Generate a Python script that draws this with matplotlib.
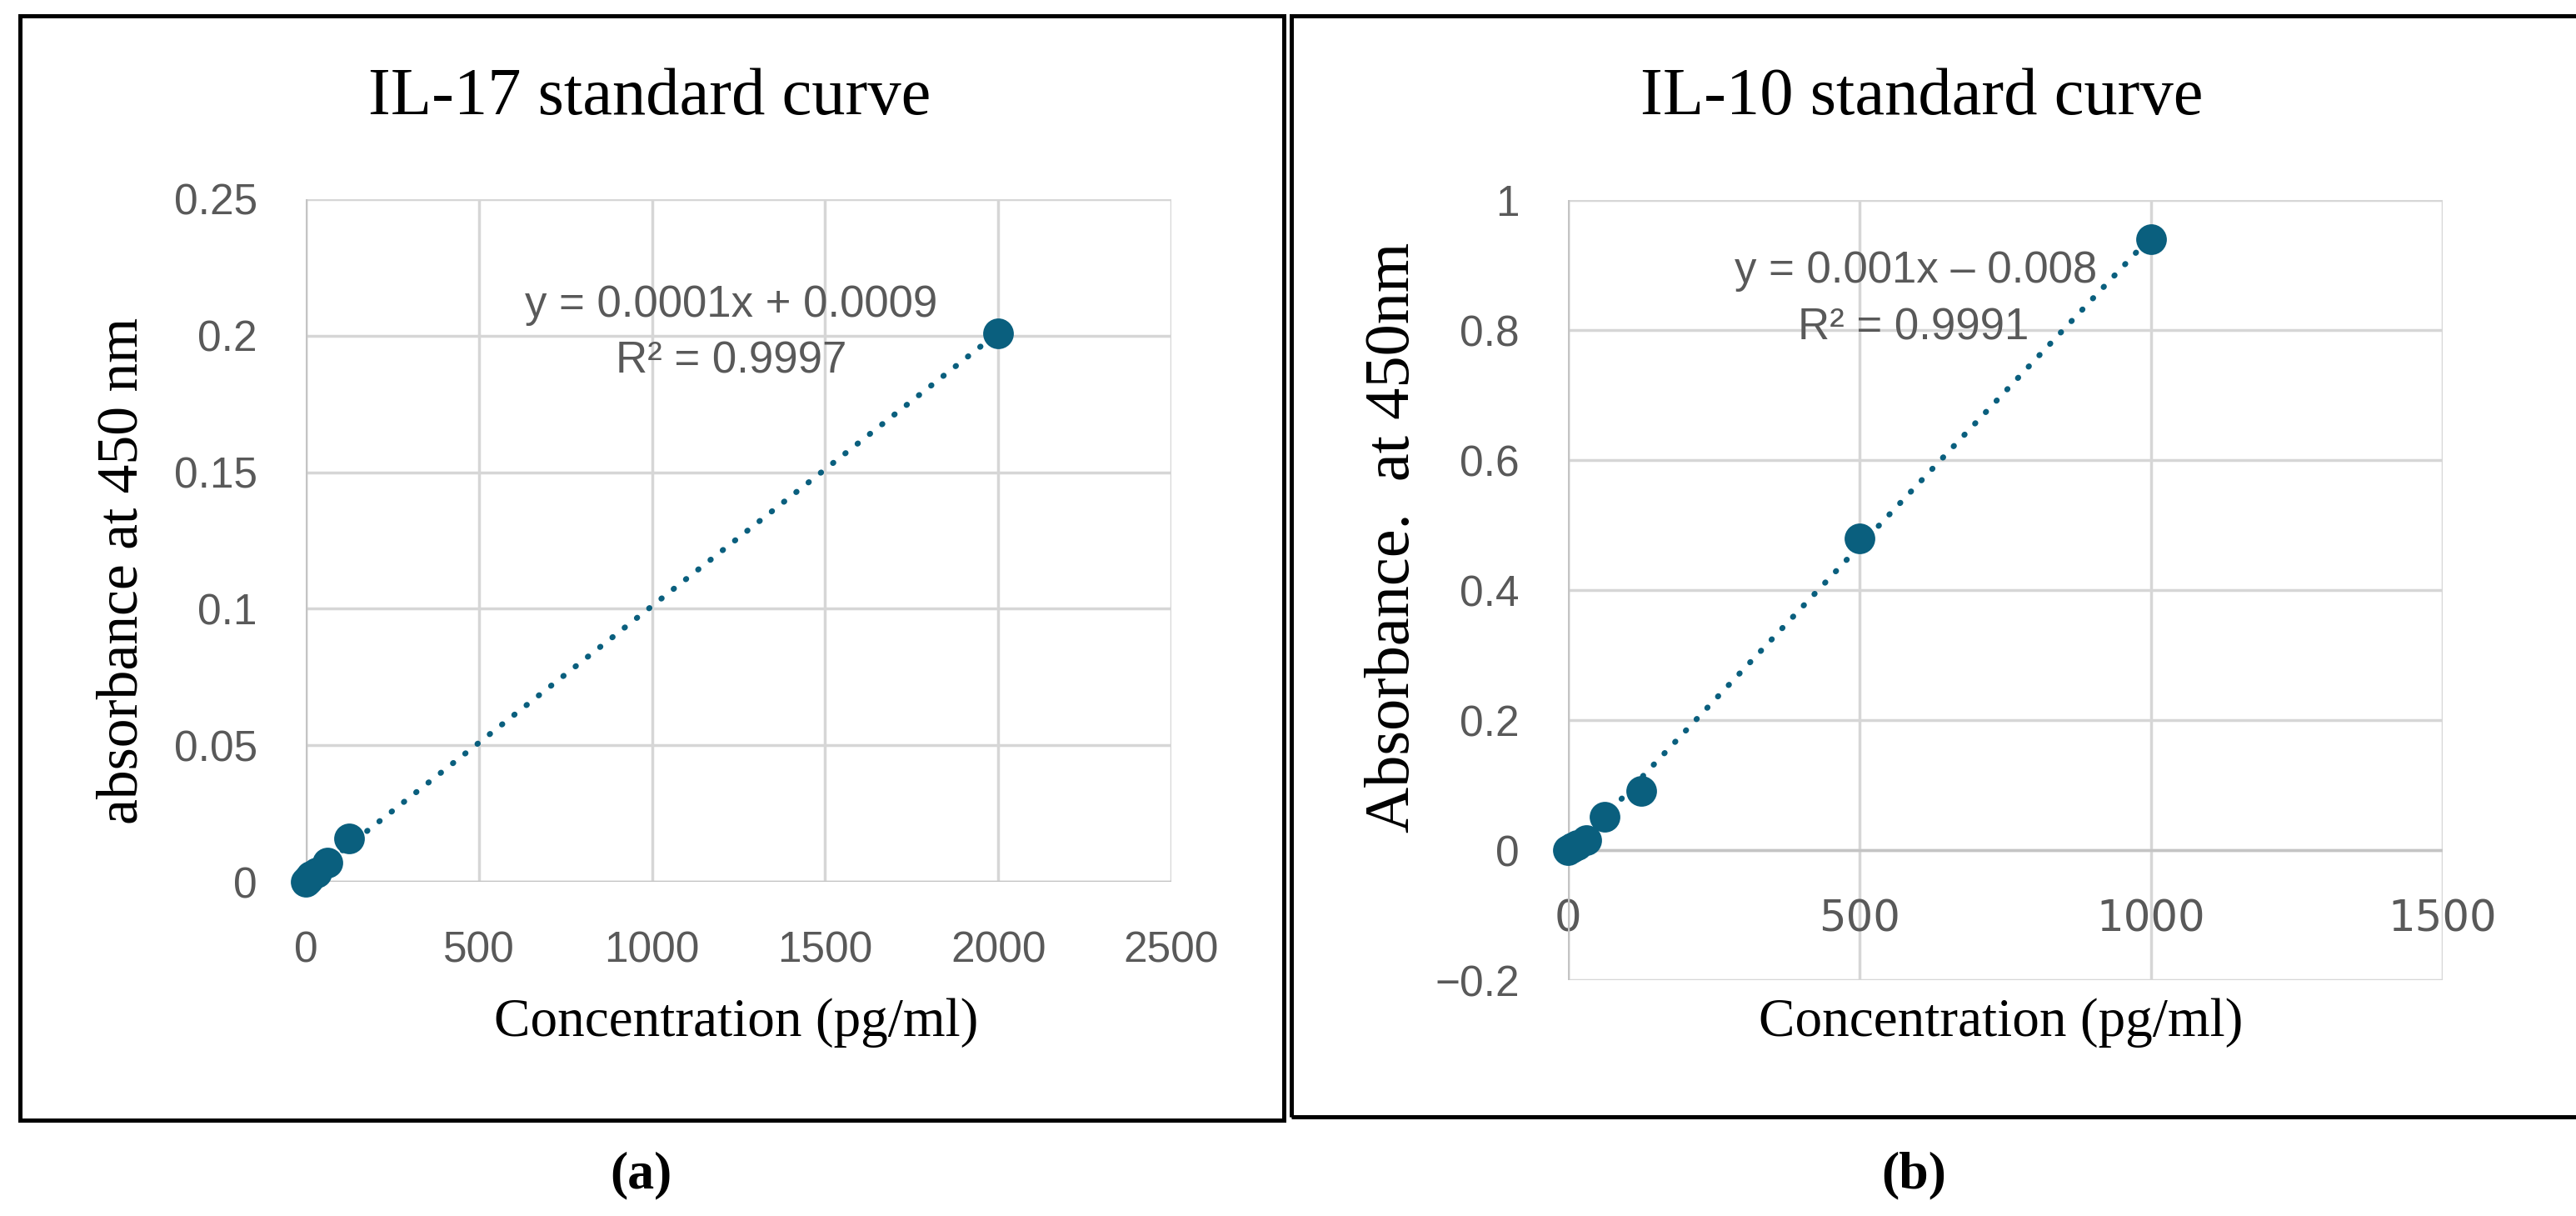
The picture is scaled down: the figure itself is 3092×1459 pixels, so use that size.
import numpy as np
import matplotlib
matplotlib.use("Agg")
import matplotlib.pyplot as plt
from matplotlib.patches import Rectangle

# ---- data ----
il17_conc = [0, 7.8, 15.6, 31.25, 62.5, 125, 2000]
il17_abs = [0, 0.001, 0.002, 0.0035, 0.007, 0.016, 0.201]
il10_conc = [0, 7.8, 15.6, 31.25, 62.5, 125, 500, 1000]
il10_abs = [0, 0.004, 0.008, 0.016, 0.051, 0.091, 0.48, 0.94]

il17_xticks = [0, 500, 1000, 1500, 2000, 2500]
il17_yticks = [0, 0.05, 0.1, 0.15, 0.2, 0.25]
il17_yticklabels = ["0", "0.05", "0.1", "0.15", "0.2", "0.25"]
il10_xticks = [0, 500, 1000, 1500]
il10_yticks = [-0.2, 0, 0.2, 0.4, 0.6, 0.8, 1.0]
il10_yticklabels = ["\u22120.2", "0", "0.2", "0.4", "0.6", "0.8", "1"]

il17_title = "IL-17 standard curve"
il10_title = "IL-10 standard curve"
il17_eq = ["y = 0.0001x + 0.0009", "R\u00b2 = 0.9997"]
il10_eq = ["y = 0.001x \u2013 0.008", "R\u00b2 = 0.9991"]

W, H = 3092, 1459
fig = plt.figure(figsize=(W / 100, H / 100), dpi=100)
fig.patch.set_facecolor("white")

MARK = "#0a5f7e"
GRID = "#d6d6d6"
AXL = "#c4c4c4"
TXT = "#595959"
SANS = ["Liberation Sans", "DejaVu Sans"]
SERIF = ["Liberation Serif", "DejaVu Serif"]


def fx(px):
    return px / W


def fy(py):
    return 1 - py / H


def style_axes(ax, xticks, yticks, yticklabels, xlim, ylim):
    ax.set_xlim(*xlim)
    ax.set_ylim(*ylim)
    ax.set_xticks(xticks)
    ax.set_xticklabels([str(t) for t in xticks])
    ax.set_yticks(yticks)
    ax.set_yticklabels(yticklabels)
    for s in ["top", "right", "left", "bottom"]:
        ax.spines[s].set_visible(False)
    ax.grid(True, color=GRID, lw=2.5, zorder=0)
    ax.set_axisbelow(True)
    ax.tick_params(length=0, pad=42, labelsize=37, labelcolor=TXT)
    for lab in ax.get_xticklabels() + ax.get_yticklabels():
        lab.set_family(SANS)


def draw_series(ax, x, y):
    x = np.asarray(x, float)
    y = np.asarray(y, float)
    m, b = np.polyfit(x, y, 1)
    xs = np.array([x.min(), x.max()])
    ax.plot(xs, m * xs + b, color=MARK, lw=5, linestyle=(0, (0.1, 2.6)),
            dash_capstyle="round", zorder=3, clip_on=False)
    ax.plot(x, y, "o", color=MARK, markersize=26.5, markeredgewidth=0,
            zorder=4, clip_on=False)


# ---- left panel ----
ax1 = fig.add_axes([fx(367), fy(1058), fx(1406) - fx(367), fy(239) - fy(1058)])
style_axes(ax1, il17_xticks, il17_yticks, il17_yticklabels, (0, 2500), (0, 0.25))
ax1.axvline(0, color=AXL, lw=2.5, zorder=1)
ax1.axhline(0, color=AXL, lw=2.5, zorder=1)
draw_series(ax1, il17_conc, il17_abs)

# ---- right panel ----
ax2 = fig.add_axes([fx(1882), fy(1176), fx(2932) - fx(1882), fy(240) - fy(1176)])
style_axes(ax2, il10_xticks, il10_yticks, il10_yticklabels, (0, 1500), (-0.2, 1.0))
ax2.spines["bottom"].set_position(("data", 0))
ax2.axvline(0, color=AXL, lw=2.5, zorder=1)
ax2.axhline(0, color=AXL, lw=2.5, zorder=1)
draw_series(ax2, il10_conc, il10_abs)

# ---- titles / labels ----
fig.text(fx(780), fy(118), il17_title, ha="center", va="center",
         family=SERIF, fontsize=58, color="black")
fig.text(fx(2307), fy(118), il10_title, ha="center", va="center",
         family=SERIF, fontsize=58, color="black")

fig.text(fx(884), fy(1227), "Concentration (pg/ml)", ha="center", va="center",
         family=SERIF, fontsize=47, color="black")
fig.text(fx(2402), fy(1227), "Concentration (pg/ml)", ha="center", va="center",
         family=SERIF, fontsize=47, color="black")
fig.text(fx(148), fy(685), "absorbance at 450 nm", ha="center", va="center",
         rotation=90, family=SERIF, fontsize=50, color="black")
fig.text(fx(1672), fy(645), "Absorbance.  at 450nm", ha="center", va="center",
         rotation=90, family=SERIF, fontsize=55, color="black")

# trendline equations
fig.text(fx(878), fy(366), il17_eq[0], ha="center", va="center",
         family=SANS, fontsize=38, color=TXT)
fig.text(fx(878), fy(433), il17_eq[1], ha="center", va="center",
         family=SANS, fontsize=38, color=TXT)
fig.text(fx(2300), fy(325), il10_eq[0], ha="center", va="center",
         family=SANS, fontsize=38, color=TXT)
fig.text(fx(2297), fy(393), il10_eq[1], ha="center", va="center",
         family=SANS, fontsize=38, color=TXT)

# panel letters
fig.text(fx(769), fy(1410), "(a)", ha="center", va="center",
         family=SERIF, fontsize=46, fontweight="bold", color="black")
fig.text(fx(2297), fy(1410), "(b)", ha="center", va="center",
         family=SERIF, fontsize=46, fontweight="bold", color="black")

# panel frames
fig.add_artist(Rectangle((fx(24), fy(1344)), fx(1541) - fx(24), fy(19) - fy(1344),
                         transform=fig.transFigure, fill=False, lw=3.6,
                         edgecolor="black"))
fig.add_artist(Rectangle((fx(1550), fy(1340)), fx(3110) - fx(1550), fy(19) - fy(1340),
                         transform=fig.transFigure, fill=False, lw=3.6,
                         edgecolor="black", clip_on=False))

fig.savefig("out.png", dpi=100, facecolor="white")
